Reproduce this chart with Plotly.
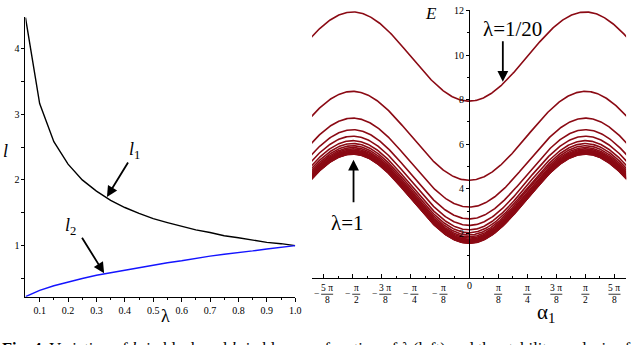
import math
import numpy as np
import plotly.graph_objects as go

# Left panel: l1 (black) and l2 (blue) against lambda
lam = [0.05, 0.10, 0.15, 0.20, 0.25, 0.30, 0.35, 0.40, 0.45, 0.50,
       0.55, 0.60, 0.65, 0.70, 0.75, 0.80, 0.85, 0.90, 0.95, 1.00]
l1 = [4.47, 3.16, 2.58, 2.24, 2.00, 1.83, 1.69, 1.58, 1.49, 1.41,
      1.35, 1.29, 1.24, 1.20, 1.15, 1.12, 1.08, 1.05, 1.03, 1.00]
l2 = [0.224, 0.32, 0.39, 0.45, 0.50, 0.55, 0.59, 0.63, 0.67, 0.71,
      0.74, 0.77, 0.81, 0.84, 0.87, 0.89, 0.92, 0.95, 0.97, 1.00]
lam_ticks = [0.1, 0.2, 0.3, 0.4, 0.5, 0.6, 0.7, 0.8, 0.9, 1.0]
lam_ticktext = ["0.1", "0.2", "0.3", "0.4", "0.5", "0.6", "0.7", "0.8", "0.9", "1.0"]
l_ticks = [1, 2, 3, 4]

# Right panel: E(alpha1) for lambda = 1/20 ... 20/20, read at alpha=0 (min) and alpha=pi/2 (max)
E_min = [7.93, 4.38, 3.18, 2.65, 2.36, 2.16, 2.03, 1.93, 1.85, 1.79,
         1.74, 1.70, 1.67, 1.64, 1.62, 1.60, 1.59, 1.575, 1.565, 1.555]
E_max = [11.93, 8.37, 7.17, 6.65, 6.36, 6.16, 6.03, 5.93, 5.85, 5.79,
         5.74, 5.70, 5.67, 5.64, 5.62, 5.60, 5.59, 5.575, 5.565, 5.555]
alpha_eighths = [-5, -4, -3, -2, -1, 0, 1, 2, 3, 4, 5]
alpha_nums = ["5 π", "π", "3 π", "π", "π", "0", "π", "π", "3 π", "π", "5 π"]
alpha_dens = ["8", "2", "8", "4", "8", "", "8", "4", "8", "2", "8"]
E_ticks = [2, 4, 6, 8, 10, 12]

SERIF = "Liberation Serif"
RED = "#8b0a14"
W, H = 640, 345

fig = go.Figure()

fig.add_trace(go.Scatter(x=lam, y=l1, mode="lines", line=dict(color="black", width=1.4),
                         xaxis="x", yaxis="y"))
fig.add_trace(go.Scatter(x=lam, y=l2, mode="lines", line=dict(color="#1414ff", width=1.4),
                         xaxis="x", yaxis="y"))

alpha = np.linspace(-2.2, 2.2, 400)
for lo, hi in zip(E_min, E_max):
    # each curve is a sinusoid of period pi between its read min and max
    e = lo + (hi - lo) * np.sin(alpha) ** 2
    fig.add_trace(go.Scatter(x=alpha, y=e, mode="lines", line=dict(color=RED, width=1.6),
                             xaxis="x2", yaxis="y2"))

tick_font = dict(family=SERIF, size=10, color="black")
ax_common = dict(showline=True, linecolor="black", linewidth=1, showgrid=False,
                 zeroline=False, tickcolor="black", tickfont=tick_font)

pi8 = math.pi / 8
fig.update_layout(
    width=W, height=H,
    margin=dict(l=0, r=0, t=0, b=0),
    plot_bgcolor="white", paper_bgcolor="white",
    showlegend=False,
    xaxis=dict(domain=[25.7 / W, 298 / W], range=[0.05, 1.0], anchor="y",
               tickvals=lam_ticks, ticktext=lam_ticktext, ticks="outside", ticklen=4,
               minor=dict(tickvals=[0.15, 0.25, 0.35, 0.45, 0.55, 0.65, 0.75, 0.85, 0.95],
                          ticks="outside", ticklen=2, tickcolor="black"),
               **ax_common),
    yaxis=dict(domain=[(H - 296) / H, (H - 12.5) / H], range=[0.2236, 4.472], anchor="x",
               tickvals=l_ticks, ticks="outside", ticklen=3,
               minor=dict(tickvals=[0.5, 1.5, 2.5, 3.5], ticks="outside", ticklen=3,
                          tickcolor="black"),
               **ax_common),
    xaxis2=dict(domain=[315 / W, 632 / W], range=[-2.12, 2.12], anchor="y2",
                tickvals=[k * pi8 for k in alpha_eighths], showticklabels=False,
                ticks="inside", ticklen=4,
                minor=dict(tickvals=[(k + 0.5) * pi8 for k in range(-6, 6)],
                           ticks="inside", ticklen=2, tickcolor="black"),
                **ax_common),
    yaxis2=dict(domain=[(H - 277) / H, (H - 5.5) / H], range=[0, 12], anchor="free",
                position=473.5 / W, tickvals=E_ticks, ticks="outside", ticklen=3,
                minor=dict(tickvals=[1, 3, 5, 7, 9, 11], ticks="outside", ticklen=2,
                           tickcolor="black"),
                **ax_common),
)


def label(x, y, text, size, xref="paper", **kw):
    fig.add_annotation(x=x, y=y, xref=xref, yref="paper", text=text, showarrow=False,
                       xanchor="center", yanchor="middle",
                       font=dict(family=SERIF, size=size, color="black"), **kw)


# stacked-fraction tick labels for alpha1
num_y = (H - 287.5) / H
den_y = (H - 299.5) / H
bar_y = (H - 293.5) / H
for k, num, den in zip(alpha_eighths, alpha_nums, alpha_dens):
    xv = k * pi8
    if k == 0:
        label(0, (H - 285) / H, "0", 10, xref="x2")
        continue
    shift = 3.5 if k < 0 else 0
    half = 6 if len(num) > 1 else 4
    label(xv, num_y, num, 9.5, xref="x2", xshift=shift)
    label(xv, den_y, den, 9.5, xref="x2", xshift=shift)
    fig.add_shape(type="line", xref="x2", xsizemode="pixel", xanchor=xv,
                  x0=shift - half, x1=shift + half, yref="paper", y0=bar_y, y1=bar_y,
                  line=dict(color="black", width=0.8))
    if k < 0:
        label(xv, bar_y, "−", 9.5, xref="x2", xshift=shift - half - 5)

# axis titles
label(6 / W, (H - 148) / H, "<i>l</i>", 18)
label(167 / W, (H - 316) / H, "λ", 18)
label(435 / W, (H - 9) / H, "<i>E</i>", 17)
label(551 / W, (H - 313) / H, "α<sub>1</sub>", 21)

# curve labels and arrows
label(136 / W, (H - 148) / H, "<i>l</i><sub>1</sub>", 18)
label(71 / W, (H - 225) / H, "<i>l</i><sub>2</sub>", 18)
fig.add_annotation(x=0.337, y=1.74, xref="x", yref="y", text="", showarrow=True,
                   ax=22, ay=-36, arrowhead=2, arrowsize=1.2, arrowwidth=1.8, arrowcolor="black")
fig.add_annotation(x=0.327, y=0.58, xref="x", yref="y", text="", showarrow=True,
                   ax=-23, ay=-37, arrowhead=2, arrowsize=1.2, arrowwidth=1.8, arrowcolor="black")

label(517 / W, (H - 24) / H, "λ=1/20", 21)
fig.add_annotation(x=0.456, y=8.8, xref="x2", yref="y2", text="", showarrow=True,
                   ax=0, ay=-42, arrowhead=2, arrowsize=1.2, arrowwidth=1.8, arrowcolor="black")
label(351 / W, (H - 221) / H, "λ=1", 21)
fig.add_annotation(x=-1.56, y=5.3, xref="x2", yref="y2", text="", showarrow=True,
                   ax=0, ay=44, arrowhead=2, arrowsize=1.2, arrowwidth=1.8, arrowcolor="black")

# caption (cut off at the bottom edge, as in the source)
fig.add_annotation(x=0, y=(H - 337) / H, xref="paper", yref="paper", xanchor="left",
                   yanchor="top",
                   text="<b>Fig. 4</b>  Variation of <i>l</i><sub>1</sub> in black and "
                        "<i>l</i><sub>2</sub> in blue as a function of <i>λ</i> (left) and "
                        "the stability analysis of",
                   showarrow=False, font=dict(family=SERIF, size=16.5, color="black"))

fig.write_html("out.html", config={"displayModeBar": False},
               post_script="document.body.style.margin='0';"
                           "document.body.style.overflow='hidden';")
